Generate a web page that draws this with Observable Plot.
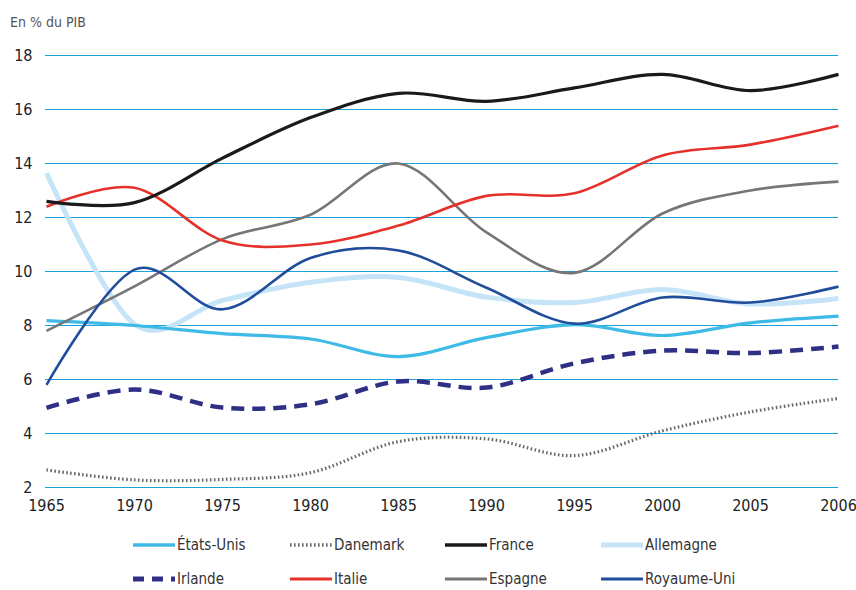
<!DOCTYPE html>
<html>
<head>
<meta charset="utf-8">
<script src="https://cdn.jsdelivr.net/npm/d3@7"></script>
<script src="https://cdn.jsdelivr.net/npm/@observablehq/plot@0.6"></script>
<style>
  html, body { margin: 0; padding: 0; background: #fff; }
  body { width: 856px; height: 590px; position: relative; overflow: hidden;
         font-family: "DejaVu Sans Condensed", "DejaVu Sans", sans-serif; }
  #title { position: absolute; left: 10px; top: 12px; font-size: 14px; color: #555; line-height: 20px; }
  #chart { position: absolute; left: 0; top: 40px; }
  #legend { position: absolute; left: 0; top: 0; width: 856px; height: 590px; pointer-events: none; }
  .item { position: absolute; height: 20px; display: flex; align-items: center; font-size: 15px; color: #333; }
  .item svg { margin-right: 2px; }
</style>
</head>
<body>
<div id="title">En % du PIB</div>
<div id="chart"></div>
<div id="legend"></div>
<script>
const years = ["1965","1970","1975","1980","1985","1990","1995","2000","2005","2006"];
const etatsUnis  = [8.18, 8.0, 7.7, 7.5, 6.85, 7.55, 8.03, 7.63, 8.1, 8.35];
const danemark   = [2.65, 2.28, 2.3, 2.55, 3.7, 3.8, 3.18, 4.1, 4.8, 5.3];
const france     = [12.6, 12.55, 14.2, 15.7, 16.6, 16.3, 16.8, 17.3, 16.7, 17.3];
const allemagne  = [13.65, 8.05, 8.93, 9.6, 9.78, 9.05, 8.85, 9.33, 8.8, 9.0];
const irlande    = [4.95, 5.63, 4.96, 5.08, 5.93, 5.7, 6.6, 7.07, 6.98, 7.22];
const italie     = [12.4, 13.1, 11.15, 11.0, 11.7, 12.8, 12.9, 14.3, 14.7, 15.4];
const espagne    = [7.8, 9.45, 11.2, 12.1, 14.0, 11.45, 9.95, 12.15, 13.0, 13.33];
const royaumeUni = [5.8, 10.07, 8.6, 10.5, 10.78, 9.4, 8.07, 9.04, 8.85, 9.44];
const yTicks = [2, 4, 6, 8, 10, 12, 14, 16, 18];

const series = [
  {name: "Allemagne",   values: allemagne,  stroke: "#c6e4f7", width: 5,   dash: null},
  {name: "États-Unis",  values: etatsUnis,  stroke: "#3dbbe6", width: 3.2, dash: null},
  {name: "Danemark",    values: danemark,   stroke: "#6a6a6a", width: 3.2, dash: "1.6,2.4"},
  {name: "Irlande",     values: irlande,    stroke: "#2e2f85", width: 4.5, dash: "13,8"},
  {name: "Espagne",     values: espagne,    stroke: "#767676", width: 2.6, dash: null},
  {name: "Italie",      values: italie,     stroke: "#e5312a", width: 2.6, dash: null},
  {name: "Royaume-Uni", values: royaumeUni, stroke: "#1f4d9b", width: 2.6, dash: null},
  {name: "France",      values: france,     stroke: "#1a1a1a", width: 3.2, dash: null}
];

const lineMarks = series.map(s => Plot.line(
  years.map((yr, i) => ({year: yr, value: s.values[i]})),
  {x: "year", y: "value", curve: "cardinal", stroke: s.stroke, strokeWidth: s.width,
   strokeDasharray: s.dash, strokeLinecap: "butt", strokeLinejoin: "round"}
));

const chart = Plot.plot({
  width: 856, height: 482,
  marginLeft: 45, marginRight: 18, marginTop: 15, marginBottom: 35,
  x: {type: "point", domain: years, padding: 0, label: null},
  y: {domain: [2, 18], label: null},
  style: {fontFamily: '"DejaVu Sans Condensed", "DejaVu Sans", sans-serif', fontSize: "16px", color: "#222", background: "white"},
  marks: [
    Plot.ruleY(yTicks, {stroke: "#1ba1dc", strokeWidth: 1.2}),
    Plot.axisY(yTicks, {tickSize: 0, tickPadding: 13, label: null}),
    Plot.axisX(years, {tickSize: 0, tickPadding: 12, label: null}),
    ...lineMarks
  ]
});
document.getElementById("chart").appendChild(chart);

// Legend
const legendOrder = ["États-Unis", "Danemark", "France", "Allemagne", "Irlande", "Italie", "Espagne", "Royaume-Uni"];
const colX = [133, 290, 445, 601];
const rowY = [535, 569];
const legend = document.getElementById("legend");
legendOrder.forEach((name, i) => {
  const s = series.find(d => d.name === name);
  const div = document.createElement("div");
  div.className = "item";
  div.style.left = colX[i % 4] + "px";
  div.style.top = rowY[Math.floor(i / 4)] + "px";
  const w = 42;
  div.innerHTML = `<svg width="${w}" height="20"><line x1="0" x2="${w}" y1="10" y2="10" stroke="${s.stroke}" stroke-width="${Math.min(s.width + 0.5, 5)}" ${s.dash ? `stroke-dasharray="${name === "Irlande" ? "11,8" : s.dash}"` : ""}/></svg><span>${name}</span>`;
  legend.appendChild(div);
});
</script>
</body>
</html>
